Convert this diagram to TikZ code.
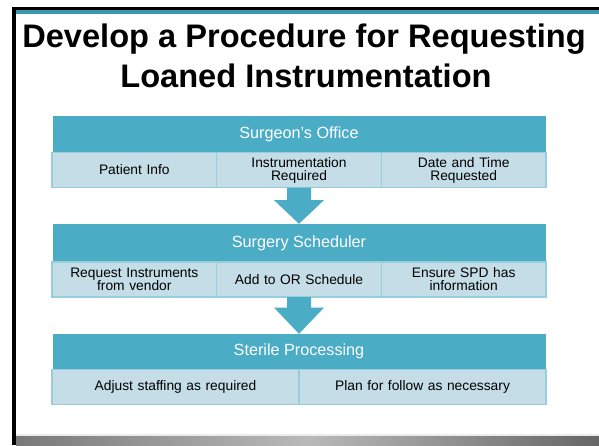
\documentclass[tikz,border=0pt]{standalone}
\usepackage{fontspec}
\setmainfont{Liberation Sans}
\usetikzlibrary{calc}
\definecolor{headfill}{HTML}{4BACC6}
\definecolor{cellfill}{HTML}{C4DDE6}
\definecolor{celledge}{HTML}{96CEDD}
\definecolor{bandteal}{HTML}{3C98AC}
\tikzset{
  header/.style={fill=headfill, draw=none, inner sep=0pt, minimum width=493pt, minimum height=#1, text=white, font=\fontsize{16.2}{18}\selectfont},
  cell/.style={fill=cellfill, draw=celledge, line width=1.2pt, inner sep=0pt, minimum width=#1, minimum height=35pt, text width=#1, align=center, font=\fontsize{13.8}{13}\selectfont},
  titletext/.style={font=\fontsize{32.6}{40}\bfseries\selectfont, inner sep=0pt, anchor=base},
  flowarrow/.style={fill=headfill, draw=none}
}
\begin{document}
\begin{tikzpicture}[x=1pt,y=-1pt]
\useasboundingbox (0,0) rectangle (599,445);
\fill[white] (0,0) rectangle (599,445);
% frame decorations
\fill[black] (12,7) rectangle (599,10);
\fill[bandteal] (12,10) rectangle (599,14);
\fill[black] (12,7) rectangle (16,445);
\shade[left color=gray!95!black, right color=gray!80!black, middle color=gray!55] (16,435) rectangle (599,445);
\fill[gray!15] (16,434) rectangle (599,435.5);
% title
\node[titletext] (t1) at (304,47) {Develop a Procedure for Requesting};
\node[titletext] (t2) at (306,87) {Loaned Instrumentation};
% box 1
\node[header=37pt] (h1) at (299,134.5) {Surgeon’s Office};
\node[cell=164.67pt] (c11) at (134.33,170) {Patient Info};
\node[cell=164.67pt] (c12) at (299,170) {Instrumentation\\Required};
\node[cell=164.67pt] (c13) at (463.67,170) {Date and Time\\Requested};
% box 2
\node[header=38pt] (h2) at (299,243) {Surgery Scheduler};
\node[cell=164.67pt] (c21) at (134.33,279.5) {Request Instruments\\from vendor};
\node[cell=164.67pt] (c22) at (299,279.5) {Add to OR Schedule};
\node[cell=164.67pt] (c23) at (463.67,279.5) {Ensure SPD has\\information};
% box 3
\node[header=35pt] (h3) at (299,351.5) {Sterile Processing};
\node[cell=247pt] (c31) at (175.5,387) {Adjust staffing as required};
\node[cell=247pt] (c32) at (422.5,387) {Plan for follow as necessary};
% arrows
\fill[flowarrow] ($(c12.south)+(-12,-0.6)$) -- ($(c12.south)+(12,-0.6)$) -- ($(c12.south)+(12,12)$) -- ($(c12.south)+(25,12)$) -- (h2.north) -- ($(c12.south)+(-25,12)$) -- ($(c12.south)+(-12,12)$) -- cycle;
\fill[flowarrow] ($(c22.south)+(-12,-0.6)$) -- ($(c22.south)+(12,-0.6)$) -- ($(c22.south)+(12,10)$) -- ($(c22.south)+(25,10)$) -- (h3.north) -- ($(c22.south)+(-25,10)$) -- ($(c22.south)+(-12,10)$) -- cycle;
\end{tikzpicture}
\end{document}
